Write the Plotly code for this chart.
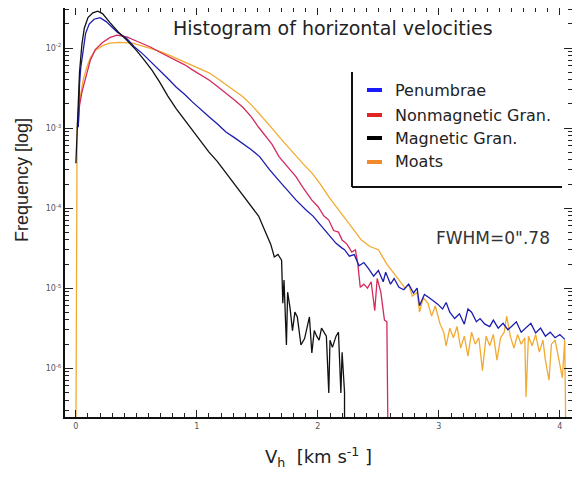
import plotly.graph_objects as go

# ---------------- data (velocity in km/s, log10 frequency) ----------------
FLOOR = -7.0  # empty bins (drawn below the axis)

penumbrae_v = [0.02, 0.03, 0.04, 0.06, 0.08, 0.11, 0.15, 0.20, 0.25, 0.30, 0.34, 0.42, 0.48, 0.55, 0.62,
               0.69, 0.76, 0.83, 0.90, 0.96, 1.03, 1.10, 1.17, 1.24, 1.31, 1.38, 1.45, 1.52, 1.60, 1.68,
               1.75, 1.82, 1.90, 1.96, 2.01, 2.05, 2.10, 2.15, 2.20, 2.22, 2.26, 2.30, 2.34, 2.38, 2.42,
               2.46, 2.50, 2.54, 2.56, 2.60, 2.63, 2.67, 2.71, 2.75, 2.79, 2.82, 2.84, 2.88, 2.92, 2.95,
               2.99, 3.03, 3.06, 3.09, 3.13, 3.17, 3.21, 3.24, 3.27, 3.31, 3.34, 3.38, 3.42, 3.45, 3.49,
               3.53, 3.57, 3.60, 3.64, 3.68, 3.72, 3.76, 3.80, 3.84, 3.88, 3.92, 3.96, 4.00, 4.04]
penumbrae_log = [-2.99, -2.45, -2.25, -2.00, -1.82, -1.70, -1.64, -1.62, -1.67, -1.74, -1.80, -1.88, -1.98,
                 -2.07, -2.17, -2.27, -2.38, -2.49, -2.58, -2.67, -2.77, -2.86, -2.95, -3.05, -3.12, -3.19,
                 -3.27, -3.36, -3.52, -3.66, -3.78, -3.90, -4.02, -4.10, -4.19, -4.26, -4.36, -4.44, -4.50,
                 -4.52, -4.60, -4.58, -4.72, -4.68, -4.76, -4.85, -4.78, -4.92, -4.80, -4.95, -4.88, -4.99,
                 -5.02, -4.95, -5.06, -5.00, -5.22, -5.08, -5.12, -5.15, -5.20, -5.26, -5.18, -5.30, -5.38,
                 -5.32, -5.45, -5.26, -5.30, -5.42, -5.38, -5.45, -5.48, -5.40, -5.50, -5.44, -5.52, -5.48,
                 -5.42, -5.55, -5.50, -5.44, -5.56, -5.50, -5.60, -5.55, -5.62, -5.58, -5.64]

nonmag_v = [0.02, 0.03, 0.05, 0.07, 0.09, 0.12, 0.16, 0.22, 0.28, 0.34, 0.42, 0.48, 0.55, 0.62, 0.69,
            0.76, 0.83, 0.90, 0.96, 1.03, 1.10, 1.17, 1.24, 1.31, 1.38, 1.45, 1.51, 1.56, 1.62, 1.68,
            1.75, 1.82, 1.88, 1.95, 2.00, 2.05, 2.09, 2.13, 2.17, 2.20, 2.24, 2.28, 2.31, 2.33, 2.35,
            2.38, 2.41, 2.44, 2.47, 2.49, 2.52, 2.55, 2.57, 2.58, 4.05]
nonmag_log = [-2.95, -2.72, -2.55, -2.42, -2.32, -2.15, -2.02, -1.93, -1.87, -1.84, -1.86, -1.90, -1.94,
              -1.99, -2.05, -2.10, -2.15, -2.21, -2.27, -2.33, -2.40, -2.48, -2.56, -2.65, -2.74, -2.86,
              -2.99, -3.08, -3.20, -3.36, -3.48, -3.61, -3.75, -3.90, -3.98, -4.10, -4.15, -4.28, -4.30,
              -4.40, -4.45, -4.55, -4.52, -4.70, -4.99, -4.95, -5.00, -4.92, -5.28, -4.88, -5.05, -5.40,
              -5.42, FLOOR, FLOOR]

mag_v = [0.00, 0.01, 0.02, 0.03, 0.05, 0.07, 0.10, 0.14, 0.18, 0.22, 0.28, 0.35, 0.42, 0.50, 0.57,
         0.63, 0.69, 0.76, 0.83, 0.90, 0.96, 1.03, 1.10, 1.17, 1.24, 1.31, 1.38, 1.45, 1.51, 1.57,
         1.61, 1.64, 1.67, 1.70, 1.71, 1.72, 1.74, 1.75, 1.77, 1.79, 1.81, 1.83, 1.86, 1.89, 1.91,
         1.93, 1.95, 1.97, 1.99, 2.01, 2.03, 2.05, 2.07, 2.09, 2.10, 2.12, 2.15, 2.17, 2.19, 2.20,
         2.22, 2.22, 4.05]
mag_log = [-3.44, -3.00, -2.60, -2.30, -1.95, -1.75, -1.62, -1.56, -1.54, -1.57, -1.68, -1.80, -1.90,
           -2.03, -2.16, -2.28, -2.42, -2.60, -2.76, -2.90, -3.02, -3.17, -3.30, -3.42, -3.56, -3.70,
           -3.84, -3.98, -4.10, -4.31, -4.45, -4.61, -4.58, -4.65, -5.19, -4.90, -5.71, -5.05, -5.25,
           -5.53, -5.30, -5.36, -5.71, -5.63, -5.48, -5.36, -5.81, -5.53, -5.60, -5.65, -5.50, -5.56,
           -5.60, -6.31, -5.65, -5.74, -5.60, -5.55, -6.31, -5.80, -6.30, FLOOR, FLOOR]

moats_v = [0.00, 0.01, 0.02, 0.04, 0.06, 0.09, 0.12, 0.16, 0.22, 0.28, 0.36, 0.47, 0.54, 0.61, 0.69,
           0.77, 0.86, 0.96, 1.03, 1.10, 1.17, 1.24, 1.31, 1.38, 1.45, 1.51, 1.56, 1.62, 1.68, 1.75,
           1.82, 1.88, 1.95, 2.02, 2.09, 2.16, 2.23, 2.30, 2.36, 2.43, 2.50, 2.57, 2.64, 2.68, 2.72,
           2.75, 2.78, 2.82, 2.84, 2.87, 2.91, 2.94, 2.97, 3.01, 3.04, 3.06, 3.09, 3.12, 3.15, 3.18,
           3.21, 3.24, 3.27, 3.30, 3.33, 3.36, 3.39, 3.42, 3.45, 3.48, 3.51, 3.54, 3.56, 3.59, 3.62,
           3.65, 3.68, 3.71, 3.72, 3.74, 3.77, 3.80, 3.83, 3.86, 3.88, 3.91, 3.93, 3.96, 3.99, 4.02,
           4.04, 4.05]
moats_log = [FLOOR, -3.00, -2.75, -2.55, -2.40, -2.24, -2.12, -2.03, -1.97, -1.94, -1.93, -1.94, -1.97,
             -2.00, -2.04, -2.09, -2.15, -2.21, -2.26, -2.31, -2.38, -2.46, -2.53, -2.61, -2.71, -2.81,
             -2.90, -3.00, -3.11, -3.23, -3.36, -3.45, -3.56, -3.70, -3.86, -4.00, -4.15, -4.28, -4.40,
             -4.48, -4.52, -4.70, -4.85, -4.92, -5.00, -4.95, -5.10, -5.05, -5.30, -5.12, -5.19, -5.35,
             -5.22, -5.45, -5.55, -5.72, -5.50, -5.62, -5.48, -5.75, -5.60, -5.85, -5.55, -5.70, -5.62,
             -6.03, -5.60, -5.72, -5.58, -5.90, -5.62, -5.55, -5.35, -5.60, -5.75, -5.58, -5.70, -5.62,
             -6.36, -5.60, -5.72, -5.58, -5.80, -5.65, -5.90, -6.15, -5.70, -5.65, -5.88, -6.12, -5.65,
             FLOOR]

series_names = ["Penumbrae", "Nonmagnetic Gran.", "Magnetic Gran.", "Moats"]
line_colors = ["#1c1cb0", "#d42a5a", "#111111", "#f2aa30"]
swatch_colors = ["#1a1aff", "#e02424", "#000000", "#f08a2a"]

x_ticks = [0, 1, 2, 3, 4]
y_tick_exps = [-2, -3, -4, -5, -6]

# ---------------- figure ----------------
# the page body adds an 8 px offset; figure is sized to fit the 580x479 window
OFF = 8
W, H = 580 - OFF, 479 - OFF
PL, PR, PT, PB = 65, 572, 8, 417          # plot box in window pixels
L, R, T, B = PL - OFF, W - (PR - OFF), PT - OFF, H - (PB - OFF)
pw, ph = PR - PL, PB - PT


def px(xp):
    return (xp - PL) / pw


def py(yp):
    return (PB - yp) / ph


fig = go.Figure()
data = [(penumbrae_v, penumbrae_log), (nonmag_v, nonmag_log), (mag_v, mag_log), (moats_v, moats_log)]
order = [3, 1, 0, 2]  # drawing order
for i in order:
    v, lg = data[i]
    fig.add_trace(go.Scatter(
        x=v, y=[10 ** e for e in lg], mode="lines", name=series_names[i],
        line=dict(color=line_colors[i], width=1.3), showlegend=False))

axis_common = dict(showline=True, linecolor="#111", linewidth=2, mirror="ticks",
                   ticks="inside", tickcolor="#222", showgrid=False, zeroline=False,
                   automargin=False)

minor_y = [k * 10 ** d for d in range(-7, -1) for k in range(2, 10)]

fig.update_xaxes(range=[-0.09, 4.1], tickvals=x_ticks, ticktext=[str(t) for t in x_ticks],
                 ticklen=7, tickwidth=1,
                 minor=dict(ticks="inside", ticklen=4, dtick=0.1, tickcolor="#222"),
                 tickfont=dict(family="DejaVu Sans", size=8, color="#555"),
                 title=dict(text="V<sub>h</sub>  [km s<sup>-1</sup> ]",
                            font=dict(family="DejaVu Sans", size=18, color="#222"), standoff=21),
                 **axis_common)
fig.update_yaxes(type="log", range=[-6.61, -1.50],
                 tickvals=[10 ** e for e in y_tick_exps],
                 ticktext=["10<sup>%d</sup>" % e for e in y_tick_exps],
                 ticklen=8, tickwidth=1,
                 minor=dict(ticks="inside", ticklen=4, tickvals=minor_y, tickcolor="#222"),
                 tickfont=dict(family="DejaVu Sans", size=8, color="#555"),
                 **axis_common)

annotations = [
    dict(text="Histogram of horizontal velocities", x=px(333), y=py(28), xref="paper", yref="paper",
         xanchor="center", yanchor="middle",
         showarrow=False, font=dict(family="DejaVu Sans", size=19, color="#222")),
    dict(text="FWHM=0\".78", x=px(493), y=py(238), xref="paper", yref="paper",
         xanchor="center", yanchor="middle",
         showarrow=False, font=dict(family="DejaVu Sans", size=17, color="#333")),
    dict(text="Frequency [log]", x=px(22), y=py(180), xref="paper", yref="paper",
         xanchor="center", yanchor="middle", textangle=-90,
         showarrow=False, font=dict(family="Liberation Sans", size=18, color="#222")),
]
shapes = [
    dict(type="line", xref="paper", yref="paper", x0=px(352), x1=px(352), y0=py(72), y1=py(187),
         line=dict(color="#111", width=2)),
    dict(type="line", xref="paper", yref="paper", x0=px(352), x1=px(562), y0=py(187), y1=py(187),
         line=dict(color="#111", width=2)),
]
rows = [90, 115, 138, 162]
for name, col, yy in zip(series_names, swatch_colors, rows):
    shapes.append(dict(type="line", xref="paper", yref="paper", x0=px(367), x1=px(382),
                       y0=py(yy), y1=py(yy), line=dict(color=col, width=4)))
    annotations.append(dict(text=name, x=px(393), y=py(yy), xref="paper", yref="paper",
                            xanchor="left", yanchor="middle", showarrow=False,
                            font=dict(family="DejaVu Sans", size=16, color="#222")))

fig.update_layout(width=W, height=H, margin=dict(l=L, r=R, t=T, b=B, autoexpand=False),
                  paper_bgcolor="white", plot_bgcolor="white",
                  annotations=annotations, shapes=shapes, showlegend=False)

fig.write_html("out.html")
